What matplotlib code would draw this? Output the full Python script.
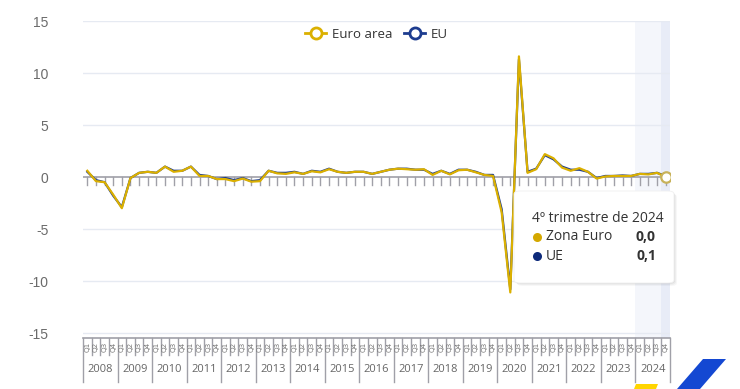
import matplotlib
matplotlib.use("Agg")
import matplotlib.pyplot as plt
from matplotlib.lines import Line2D
from matplotlib.patches import FancyBboxPatch, Polygon
import numpy as np

years = [str(y) for y in range(2008, 2025)]
quarters = ["Q1", "Q2", "Q3", "Q4"]

euro_area = [0.6, -0.4, -0.5, -1.7, -3.0, -0.1, 0.4, 0.5,
             0.4, 1.0, 0.5, 0.6, 1.0, 0.1, 0.1, -0.2,
             -0.2, -0.4, -0.15, -0.45, -0.4, 0.6, 0.35, 0.3,
             0.45, 0.3, 0.55, 0.45, 0.75, 0.5, 0.4, 0.5,
             0.5, 0.3, 0.5, 0.7, 0.8, 0.75, 0.7, 0.75,
             0.2, 0.6, 0.25, 0.65, 0.7, 0.45, 0.2, 0.1,
             -3.4, -11.1, 11.6, 0.4, 0.75, 2.2, 1.8, 0.9,
             0.6, 0.85, 0.5, -0.15, 0.05, 0.1, 0.1, 0.1,
             0.3, 0.25, 0.4, 0.0]
eu = [0.5, -0.3, -0.5, -1.8, -2.9, -0.1, 0.4, 0.5,
      0.4, 1.0, 0.6, 0.6, 1.0, 0.2, 0.1, -0.2,
      -0.1, -0.3, -0.1, -0.4, -0.3, 0.6, 0.4, 0.4,
      0.5, 0.3, 0.6, 0.5, 0.8, 0.5, 0.4, 0.5,
      0.5, 0.3, 0.5, 0.7, 0.8, 0.8, 0.7, 0.7,
      0.3, 0.6, 0.3, 0.7, 0.7, 0.5, 0.2, 0.2,
      -3.1, -10.8, 11.3, 0.5, 0.8, 2.1, 1.7, 1.0,
      0.7, 0.7, 0.5, -0.1, 0.1, 0.1, 0.15, 0.1,
      0.3, 0.3, 0.4, 0.1]

YELLOW = "#dbb000"
BLUE = "#1d3c8f"
GRID = "#e6eaf2"
AXC = "#a0a0a8"

W, H = 740, 389
fig = plt.figure(figsize=(W / 100, H / 100), dpi=100)
L, R, T, B = 83, 670, 21, 338
ax = fig.add_axes([L / W, 1 - B / H, (R - L) / W, (B - T) / H])

n = len(euro_area)
x = np.arange(n)
ax.set_xlim(-0.5, n - 0.5)
ax.set_ylim(-15.48, 15)

# shading for 2024 and hover
ax.axvspan(63.5, 66.5, color="#f4f6fb", zorder=0, lw=0)
ax.axvspan(66.5, 67.5, color="#e8ecf7", zorder=0, lw=0)

for yv in [-15, -10, -5, 5, 10, 15]:
    ax.axhline(yv, color=GRID, lw=1, zorder=1)
ax.axhline(0, color=AXC, lw=1.2, zorder=2)
# small ticks on zero line
for xi in x:
    ax.plot([xi, xi], [0, -0.75], color=AXC, lw=1, zorder=2)

ax.plot(x, eu, color=BLUE, lw=1.6, zorder=3, solid_joinstyle="round")
ax.plot(x, euro_area, color=YELLOW, lw=1.6, zorder=4, solid_joinstyle="round")
ax.plot([x[-1]], [euro_area[-1]], marker="o", ms=7.5, mfc="white", mec="#c8b25a",
        mew=1.6, zorder=5)

for s in ax.spines.values():
    s.set_visible(False)
ax.spines["bottom"].set_visible(True)
ax.spines["bottom"].set_color(AXC)
ax.spines["bottom"].set_linewidth(1.2)
ax.set_xticks([])
ax.set_yticks([-15, -10, -5, 0, 5, 10, 15])
ax.set_yticklabels(["-15", "-10", "-5", "0", "5", "10", "15"],
                   fontfamily="Liberation Sans", fontsize=10, color="#6b6b6b")
ax.tick_params(axis="y", length=0, pad=25)

# category axis at bottom
tr = ax.get_xaxis_transform()
ph = B - T
def yf(py):
    return (B - py) / ph
for k in range(n + 1):
    xb = k - 0.5
    if k % 4 == 0:
        ax.plot([xb, xb], [0, yf(382)], color=AXC, lw=1, transform=tr, clip_on=False)
    else:
        ax.plot([xb, xb], [0, yf(355)], color=AXC, lw=1, transform=tr, clip_on=False)
for k in range(n):
    ax.text(k, yf(346.5), quarters[k % 4], rotation=90, ha="center", va="center",
            fontsize=5.2, color="#777777", transform=tr, clip_on=False,
            fontfamily="DejaVu Sans")
for i, yr in enumerate(years):
    ax.text(i * 4 + 1.5, yf(370), yr, ha="center", va="center", fontsize=8,
            color="#666666", transform=tr, fontfamily="Open Sans")

# legend
handles = [Line2D([0], [0], color=YELLOW, lw=2, marker="o", ms=8, mfc="white",
                  mec=YELLOW, mew=2),
           Line2D([0], [0], color=BLUE, lw=2, marker="o", ms=8, mfc="white",
                  mec=BLUE, mew=2)]
leg = ax.legend(handles, ["Euro area", "EU"], loc="upper center",
                bbox_to_anchor=(0.5, 1.0), ncol=2, frameon=False,
                prop={"family": "Open Sans", "size": 9.5}, handlelength=1.6,
                columnspacing=0.9, handletextpad=0.4, borderaxespad=0.1)
for t in leg.get_texts():
    t.set_color("#333333")

# tooltip
def fx(px):
    return px / W
def fy(py):
    return 1 - py / H
for off, a in [(3, 0.03), (2, 0.04), (1, 0.05)]:
    sh = FancyBboxPatch((fx(514 + off), fy(283 + off)), fx(674) - fx(514),
                        fy(191) - fy(283),
                        boxstyle="round,pad=0,rounding_size=0.008",
                        transform=fig.transFigure, fc="#000000", alpha=a, ec="none",
                        zorder=9)
    fig.patches.append(sh)
box = FancyBboxPatch((fx(514), fy(283)), fx(674) - fx(514), fy(191) - fy(283),
                     boxstyle="round,pad=0,rounding_size=0.008",
                     transform=fig.transFigure, fc="white", ec="#f0f0f0", lw=0.6,
                     zorder=10)
fig.patches.append(box)
fig.text(fx(532), fy(218), "4º trimestre de 2024", fontsize=10, color="#333333",
         va="center", ha="left", fontfamily="Open Sans", zorder=11)
fig.add_artist(Line2D([fx(537)], [fy(237)], marker="o", ms=6.5, mfc="#d4a800",
                      mec="none", transform=fig.transFigure, zorder=11))
fig.add_artist(Line2D([fx(537)], [fy(256)], marker="o", ms=6.5, mfc="#0d2a7a",
                      mec="none", transform=fig.transFigure, zorder=11))
fig.text(fx(546), fy(237), "Zona Euro", fontsize=10, color="#333333", va="center",
         ha="left", fontfamily="Open Sans", zorder=11)
fig.text(fx(546), fy(256), "UE", fontsize=10, color="#333333", va="center",
         ha="left", fontfamily="Open Sans", zorder=11)
fig.text(fx(656), fy(237), "0,0", fontsize=10, color="#333333", va="center",
         ha="right", fontweight="bold", fontfamily="Open Sans", zorder=11)
fig.text(fx(656), fy(256), "0,1", fontsize=10, color="#333333", va="center",
         ha="right", fontweight="bold", fontfamily="Open Sans", zorder=11)

# logo decoration bottom-right
blue_poly = [(703, 359), (726, 359), (700, 389), (677, 389)]
fig.patches.append(Polygon([(fx(a), fy(b)) for a, b in blue_poly], closed=True,
                           transform=fig.transFigure, fc="#1448d2", ec="none"))
yel_poly = [(636, 384), (658, 384), (656, 389), (634, 389)]
fig.patches.append(Polygon([(fx(a), fy(b)) for a, b in yel_poly], closed=True,
                           transform=fig.transFigure, fc="#ffd500", ec="none"))

fig.savefig("out.png", dpi=100)
